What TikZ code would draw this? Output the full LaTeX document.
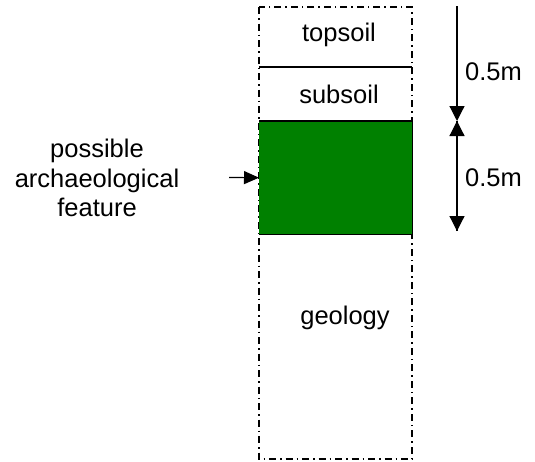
\documentclass[tikz,border=0pt]{standalone}
\usepackage{fontspec}
\setmainfont{Liberation Sans}
\usetikzlibrary{arrows.meta}
\definecolor{featgreen}{RGB}{0,128,0}
\tikzset{
  lbl/.style={font=\fontsize{25.5}{29.5}\selectfont, inner sep=0pt, align=center},
  dashdot/.style={line width=1.2pt, dash pattern=on 7pt off 4pt on 1.5pt off 4pt},
  dimarrow/.style={line width=1.2pt, -{Triangle[length=15pt,width=15pt]}},
  ptr/.style={line width=1.2pt, -{Triangle[length=15pt,width=13pt]}},
}
\begin{document}
\begin{tikzpicture}[x=1pt,y=-1pt]
\useasboundingbox (0,0) rectangle (535,461);
% column
\draw[dashdot] (259,7) rectangle (412,459);
\draw[line width=1.2pt] (259,67) -- (412,67);
% feature
\node[fill=featgreen, minimum width=153pt, minimum height=113pt, inner sep=0pt, anchor=north west] (feat) at (259,121) {};
\draw[line width=1.5pt] (feat.north west) -- (feat.north east) -- (feat.south east) -- (feat.south west);
% texts
\node[lbl] (top) at (339,35) {topsoil};
\node[lbl] (sub) at (339,94) {subsoil};
\node[lbl] (geo) at (345,318) {geology};
\node[lbl] (lab) at (97,178) {possible\\archaeological\\feature};
% pointer
\coordinate (p0) at (229,177.5);
\draw[ptr] (p0) -- (feat.west);
% dimensions
\coordinate (d0) at (457,6);
\coordinate (d1) at (457,121);
\coordinate (d2) at (457,231);
\draw[dimarrow] (d0) -- (d1);
\draw[dimarrow] (d2) -- (d1);
\draw[dimarrow] (d1) -- (d2);
\node[lbl, anchor=west] (m1) at (465,72) {0.5m};
\node[lbl, anchor=west] (m2) at (465,178) {0.5m};
\end{tikzpicture}
\end{document}
